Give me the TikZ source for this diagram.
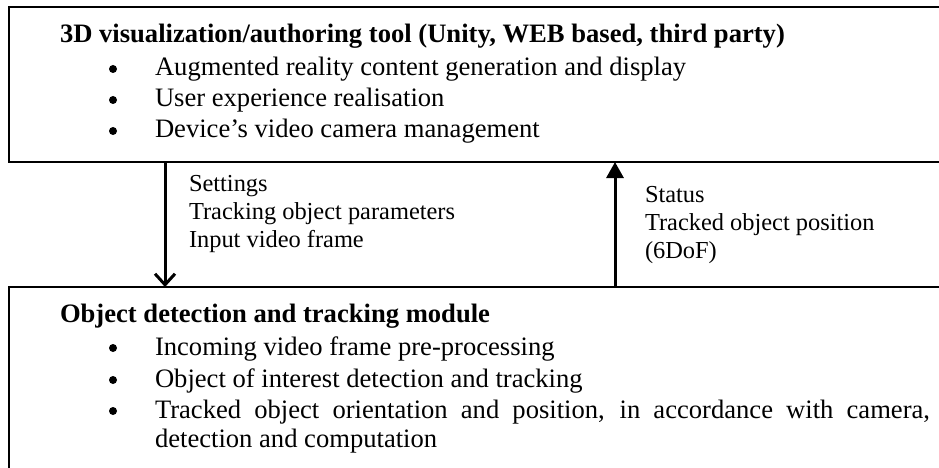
\documentclass[tikz,border=0pt]{standalone}
\usepackage{fontspec}
\setmainfont{Liberation Serif}
\usetikzlibrary{arrows.meta}
\begin{document}
\begin{tikzpicture}[x=1pt,y=-1pt,
  panel/.style={draw, line width=1.5pt, minimum width=1000pt, anchor=north west, inner sep=0pt, outer sep=0pt},
  txt/.style={anchor=base west, inner sep=0pt, outer sep=0pt, font=\fontsize{26.6}{31}\selectfont},
  lbl/.style={txt, font=\fontsize{24.4}{28}\selectfont},
  ttl/.style={txt, font=\fontsize{26.6}{31}\selectfont\bfseries},
  bul/.style={circle, fill, inner sep=0pt, minimum size=8pt},
  downarr/.style={line width=3pt, -{Straight Barb[length=11pt,width=20pt,line width=3pt]}},
  uparr/.style={line width=3pt, -{Triangle[length=16pt,width=17pt]}}
]
\useasboundingbox (0,0) rectangle (939,468);
\node[panel, minimum height=155pt] (top) at (9,7) {};
\node[panel, minimum height=300pt] (bot) at (9,287) {};

% top box text
\node[ttl] (t0) at (60,43) {3D visualization/authoring tool (Unity, WEB based, third party)};
\node[bul] (tb1) at (113,69) {};
\node[txt] (t1) at (155,76) {Augmented reality content generation and display};
\node[bul] (tb2) at (113,100) {};
\node[txt] (t2) at (155,107) {User experience realisation};
\node[bul] (tb3) at (113,131) {};
\node[txt] (t3) at (155,138) {Device’s video camera management};

% bottom box text
\node[ttl] (b0) at (60,322) {Object detection and tracking module};
\node[bul] (bb1) at (113,348) {};
\node[txt] (b1) at (155,355) {Incoming video frame pre-processing};
\node[bul] (bb2) at (113,380) {};
\node[txt] (b2) at (155,387) {Object of interest detection and tracking};
\node[bul] (bb3) at (113,411) {};
\node[txt] (b3) at (155,418) {\makebox[775pt][s]{Tracked object orientation and position, in accordance with camera,}};
\node[txt] (b4) at (155,447) {detection and computation};

% arrows
\coordinate (dx) at (165,0);
\coordinate (ux) at (615,0);
\draw[downarr] (top.south -| dx) -- (bot.north -| dx);
\draw[uparr] (bot.north -| ux) -- (top.south -| ux);

% arrow labels
\node[lbl] (s1) at (189,191) {Settings};
\node[lbl] (s2) at (189,219) {Tracking object parameters};
\node[lbl] (s3) at (189,247) {Input video frame};
\node[lbl] (r1) at (645,202) {Status};
\node[lbl] (r2) at (645,230) {Tracked object position};
\node[lbl] (r3) at (645,258) {(6DoF)};
\end{tikzpicture}
\end{document}
